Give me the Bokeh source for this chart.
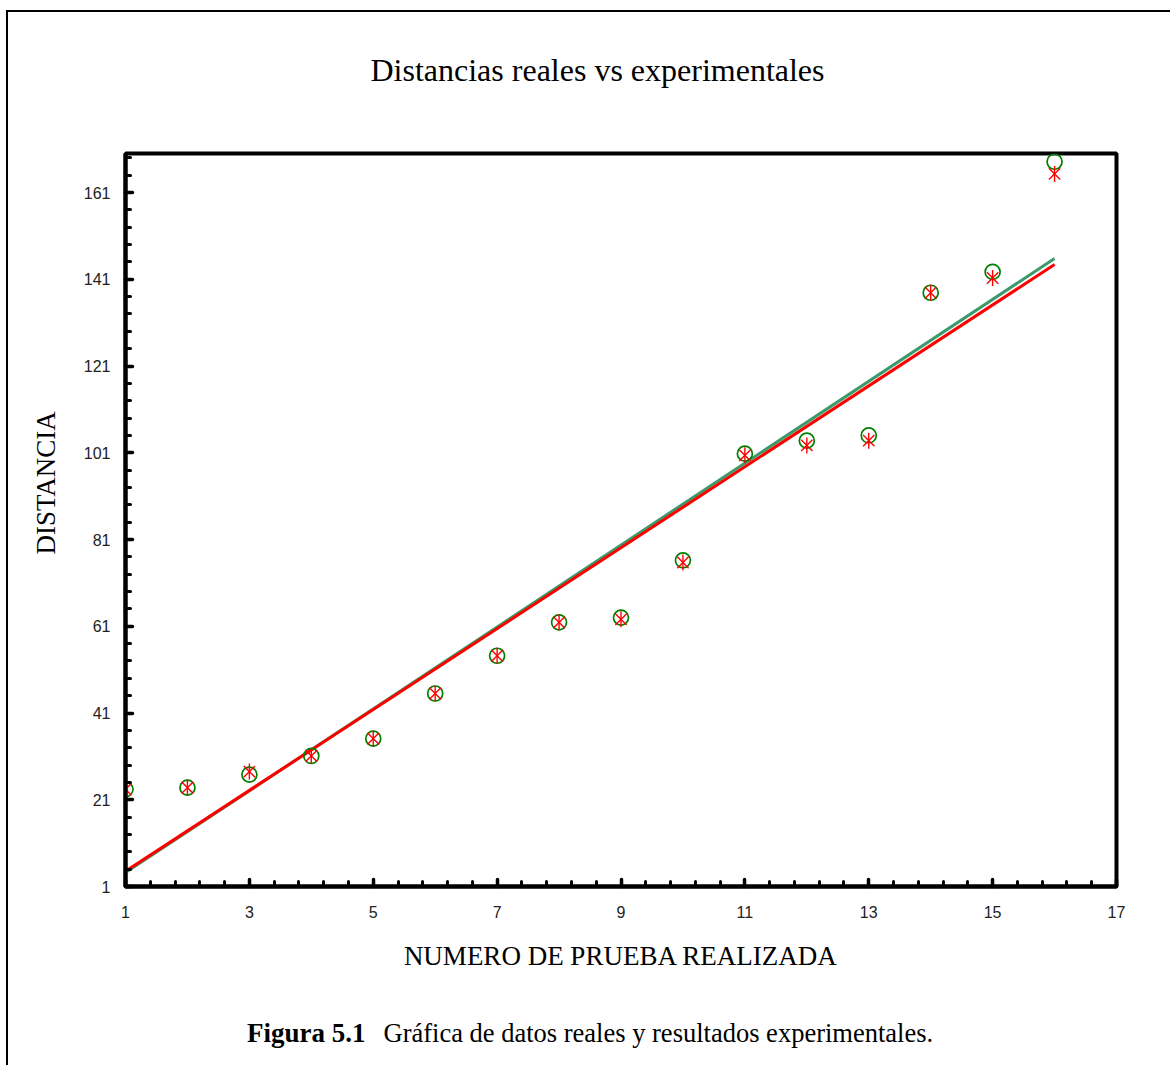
import math
from bokeh.plotting import figure
from bokeh.layouts import column
from bokeh.models import FixedTicker, Range1d
from bokeh.core.properties import value
from bokeh.embed import file_html
from bokeh.resources import INLINE

# ---- data ----
prueba = list(range(1, 17))
dist_real = [23.4, 23.8, 26.8, 31.1, 35.1, 45.5, 54.2, 61.9, 63.0, 76.2,
             100.8, 103.8, 105.0, 137.9, 142.7, 168.1]
dist_exp = [23.4, 23.8, 27.5, 31.1, 35.1, 45.5, 54.2, 61.9, 62.6, 75.7,
            100.4, 102.7, 103.8, 137.9, 141.3, 165.3]
fit_x = [1, 16]
fit_real = [4.2, 145.8]
fit_exp = [4.5, 144.4]

x_major = [1, 3, 5, 7, 9, 11, 13, 15, 17]
y_major = [1, 21, 41, 61, 81, 101, 121, 141, 161]

title_text = "Distancias reales vs experimentales"
x_label = "NUMERO DE PRUEBA REALIZADA"
y_label = "DISTANCIA"
caption_bold = "Figura 5.1"
caption_text = "Gráfica de datos reales y resultados experimentales."

x_minor = [round(1 + 0.4 * i, 2) for i in range(41)]
y_minor = list(range(1, 171, 4))

SERIF = "Liberation Serif"
SANS = "Liberation Sans"
W = 1164
BL, BR = 117, 56          # left / right borders around the plot frame
FW = W - BL - BR          # frame width in px


def text_panel(height):
    f = figure(width=W, height=height, x_range=Range1d(0, FW), y_range=Range1d(0, height),
               x_axis_type=None, y_axis_type=None,
               min_border_left=BL, min_border_right=BR,
               min_border_top=0, min_border_bottom=0,
               output_backend="svg", toolbar_location=None)
    f.outline_line_color = None
    f.background_fill_color = "white"
    f.border_fill_color = "white"
    return f


# ---- title panel ----
t = text_panel(100)
t.styles = {"border-left": "2px solid black", "border-top": "2px solid black"}
t.text(x=[472], y=[43], text=[title_text], text_font=value(SERIF),
       text_font_size=value("32px"), text_align=value("center"),
       text_baseline=value("middle"), text_color="black")

# ---- main chart ----
p = figure(width=W, height=878, title=None,
           x_range=Range1d(1, 17), y_range=Range1d(1, 170),
           min_border_left=BL, min_border_right=BR,
           min_border_top=43, min_border_bottom=102,
           output_backend="svg", toolbar_location=None)
p.styles = {"border-left": "2px solid black"}

p.grid.visible = False
p.outline_line_color = "black"
p.outline_line_width = 4
p.background_fill_color = "white"
p.border_fill_color = "white"

for ax in (p.xaxis[0], p.yaxis[0]):
    ax.axis_line_width = 4
    ax.axis_line_color = "black"
    ax.major_tick_in = 7
    ax.major_tick_out = 0
    ax.minor_tick_in = 5
    ax.minor_tick_out = 0
    ax.major_tick_line_width = 3.5
    ax.minor_tick_line_width = 3
    ax.major_tick_line_cap = "round"
    ax.minor_tick_line_cap = "round"
    ax.major_label_text_font = SANS
    ax.major_label_text_font_size = "16px"
    ax.major_label_text_color = "#222222"
    ax.axis_label_text_font = SERIF
    ax.axis_label_text_font_style = "normal"
    ax.axis_label_text_font_size = "27px"
    ax.axis_label_text_color = "black"

p.xaxis.ticker = FixedTicker(ticks=x_major, minor_ticks=x_minor)
p.yaxis.ticker = FixedTicker(ticks=y_major, minor_ticks=y_minor)
p.xaxis.axis_label = x_label
# leading no-break spaces move the rotated label up along the axis, as in the reference
p.yaxis.axis_label = "\u00a0" * 11 + y_label
p.xaxis.major_label_standoff = 19
p.yaxis.major_label_standoff = 15
p.xaxis.axis_label_standoff = 20
p.yaxis.axis_label_standoff = 20

# regression lines
p.line(fit_x, fit_real, line_color="#3a9a6a", line_width=3)
p.line(fit_x, fit_exp, line_color="#ff0000", line_width=3)

# markers
p.scatter(prueba, dist_real, marker="circle", size=15, fill_color=None,
          line_color="#008000", line_width=1.7)
p.scatter(prueba, dist_exp, marker="x", size=16, line_color="#ff0000", line_width=1.4)
p.scatter(prueba, dist_exp, marker="dash", size=16, angle=math.pi / 2,
          line_color="#ff0000", line_width=1.4)

# ---- caption panel ----
c = text_panel(77)
c.styles = {"border-left": "2px solid black"}
c.text(x=[240], y=[33], text=[caption_bold], text_font=value(SERIF),
       text_font_size=value("27px"), text_font_style=value("bold"),
       text_align=value("right"), text_baseline=value("middle"), text_color="black")
c.text(x=[258], y=[33], text=[caption_text], text_font=value(SERIF),
       text_font_size=value("26.5px"), text_align=value("left"),
       text_baseline=value("middle"), text_color="black")

layout = column(t, p, c, spacing=0)
layout.styles = {"margin-left": "6px", "margin-top": "10px"}

open("out.html", "w").write(file_html(layout, INLINE))
